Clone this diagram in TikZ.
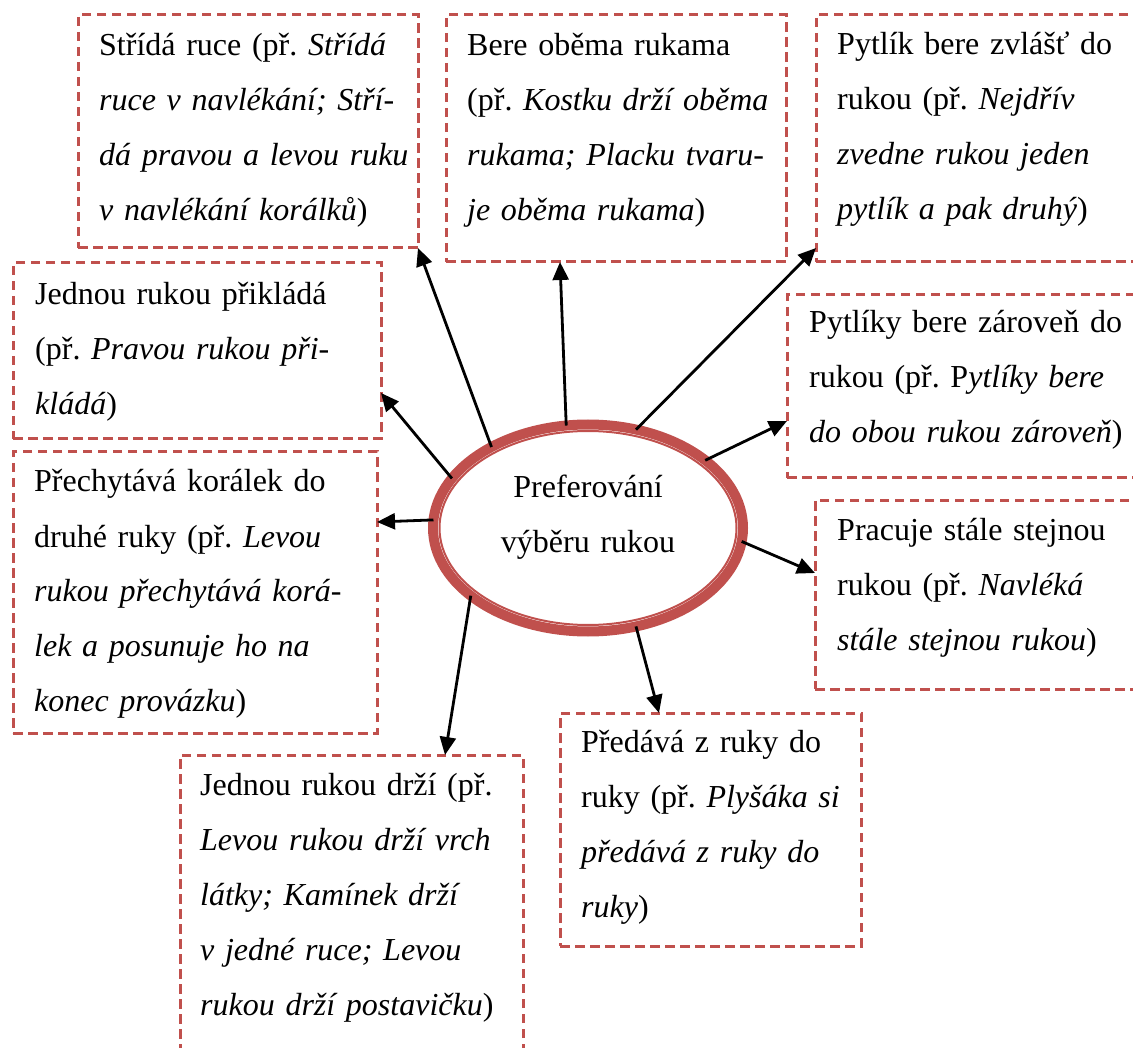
\documentclass[tikz,border=0pt]{standalone}
\usepackage{fontspec}
\setmainfont{Liberation Serif}
\frenchspacing
\usetikzlibrary{arrows.meta,shapes.geometric,calc}
\definecolor{accent}{HTML}{C0504D}
\begin{document}
\begin{tikzpicture}[x=1pt,y=-1pt,
  box/.style={draw=accent, line width=3pt, dash pattern=on 9.5pt off 5.5pt,
    rectangle, inner sep=0pt, outer sep=0pt, anchor=north west},
  txt/.style={anchor=base west, inner sep=0pt, text width=340pt, align=left,
    font=\fontsize{32}{55}\selectfont},
  link/.style={line width=2.8pt, -{Triangle[length=18pt,width=16pt]}},
  hub/.style={ellipse, draw=accent, line width=10pt, minimum width=310pt,
    minimum height=207pt, inner sep=0pt, outer sep=0pt}]
\useasboundingbox (0,0) rectangle (1133,1048);
\clip (0,0) rectangle (1133,1048);

% dashed frames
\node[box, minimum width=340pt, minimum height=233pt] (b1) at (78,15) {};
\node[box, minimum width=340pt, minimum height=247pt] (b2) at (446,15) {};
\node[box, minimum width=340pt, minimum height=247pt] (b3) at (816,15) {};
\node[box, minimum width=368pt, minimum height=176pt] (b4) at (13,263) {};
\node[box, minimum width=360pt, minimum height=183pt] (b5) at (787,295) {};
\node[box, minimum width=364pt, minimum height=281pt] (b6) at (13,452) {};
\node[box, minimum width=340pt, minimum height=189pt] (b7) at (815,500) {};
\node[box, minimum width=301pt, minimum height=233pt] (b8) at (560,713) {};
\node[box, minimum width=343pt, minimum height=330pt] (b9) at (180,755) {};

% texts
\node[txt] (t1) at (99,56) {Střídá ruce (př. \textit{Střídá}\\
  \textit{ruce v navlékání; Stří-}\\
  \textit{dá pravou a levou ruku}\\
  \textit{v navlékání korálků})};
\node[txt] (t2) at (467,56) {Bere oběma rukama\\
  (př. \textit{Kostku drží oběma}\\
  \textit{rukama; Placku tvaru-}\\
  \textit{je oběma rukama})};
\node[txt] (t3) at (837,55) {Pytlík bere zvlášť do\\
  rukou (př. \textit{Nejdřív}\\
  \textit{zvedne rukou jeden}\\
  \textit{pytlík a pak druhý})};
\node[txt] (t4) at (35,305) {Jednou rukou přikládá\\
  (př. \textit{Pravou rukou při-}\\
  \textit{kládá})};
\node[txt] (t5) at (809,333) {Pytlíky bere zároveň do\\
  rukou (př. P\textit{ytlíky bere}\\
  \textit{do obou rukou zároveň})};
\node[txt] (t6) at (34,492) {Přechytává korálek do\\
  druhé ruky (př. \textit{Levou}\\
  \textit{rukou přechytává korá-}\\
  \textit{lek a posunuje ho na}\\
  \textit{konec provázku})};
\node[txt] (t7) at (837,540) {Pracuje stále stejnou\\
  rukou (př. \textit{Navléká}\\
  \textit{stále stejnou rukou})};
\node[txt] (t8) at (581,752) {Předává z ruky do\\
  ruky (př. \textit{Plyšáka si}\\
  \textit{předává z ruky do}\\
  \textit{ruky})};
\node[txt] (t9) at (200,795) {Jednou rukou drží (př.\\
  \textit{Levou rukou drží vrch}\\
  \textit{látky; Kamínek drží}\\
  \textit{v jedné ruce; Levou}\\
  \textit{rukou drží postavičku})};

% central ellipse with its inner thin ring
\node[hub] (c) at (588,528) {};
\draw[accent, line width=2pt] (c.center) ellipse [x radius=148.5, y radius=97];
\node[anchor=base, inner sep=0pt, text width=300pt, align=center,
  font=\fontsize{32}{55}\selectfont] (ct) at (588,497)
  {Preferování\\výběru rukou};

% connectors
\draw[link] (c.140.6) -- (b1.south east);
\draw[link] (c.102.3) -- ($(b2.south west)+(114,0)$);
\draw[link] (c.64.8) -- ($(b3.south west)+(0,-14)$);
\draw[link] (c.160.6) -- ($(b4.east)+(0,42)$);
\draw[link] (c.30.8) -- ($(b5.west)+(0,34.5)$);
\draw[link] (c.177.7) -- ($(b6.east)+(0,-70.5)$);
\draw[link] (c.-5.2) -- ($(b7.west)+(0,-21.5)$);
\draw[link] (c.-64.8) -- ($(b8.north)+(-51.5,0)$);
\draw[link] (c.-150.4) -- ($(b9.north west)+(265,0)$);
\end{tikzpicture}
\end{document}
